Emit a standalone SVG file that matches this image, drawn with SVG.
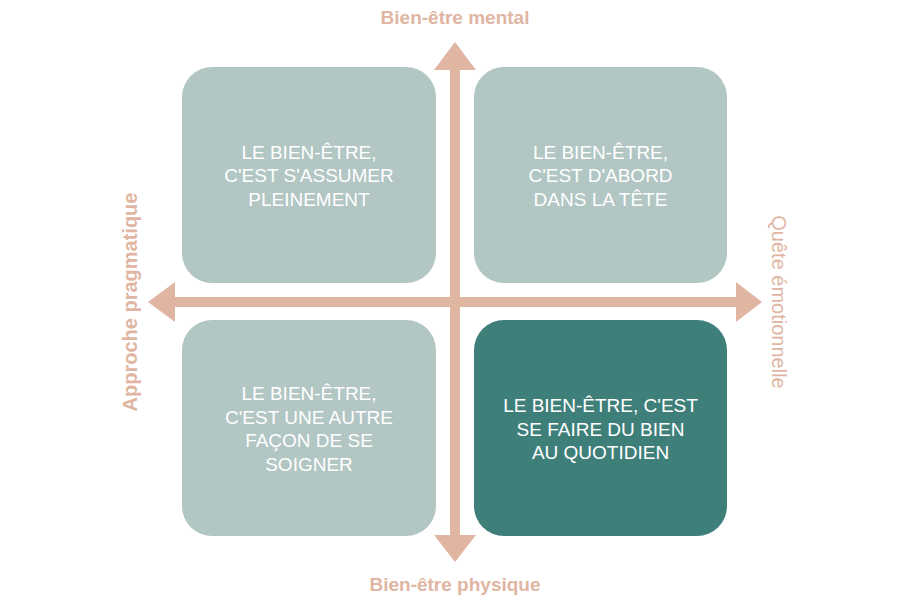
<svg xmlns="http://www.w3.org/2000/svg" width="909" height="600" viewBox="0 0 909 600">
<style>
.box{fill:#b2c6c3}
.dark{fill:#3f7f7a}
.t{font-family:"Liberation Sans",Arial,sans-serif;font-size:19px;fill:#ffffff;text-anchor:middle}
.ax{font-family:"Liberation Sans",Arial,sans-serif;font-size:19px;font-weight:bold;fill:#e0b6a3;text-anchor:middle}
.arr{fill:#e0b6a3}
</style>
<rect width="909" height="600" fill="#ffffff"/>
<g id="connectors">
<polygon class="arr" points="455,42 476,70 460,70 460,297 736,297 736,282 762,302 736,322 736,307 460,307 460,535 476,535 455,562 434,535 450,535 450,307 175,307 175,322 148,302 175,282 175,297 450,297 450,70 434,70"/>
</g>
<g id="q1">
<rect class="box" x="182" y="67" width="254" height="216" rx="30"/>
<text class="t"><tspan x="309" y="158.5">LE BIEN-ÊTRE,</tspan><tspan x="309" y="182">C'EST S'ASSUMER</tspan><tspan x="309" y="205.5">PLEINEMENT</tspan></text>
</g>
<g id="q2">
<rect class="box" x="474" y="67" width="253" height="216" rx="30"/>
<text class="t"><tspan x="600.5" y="158.5">LE BIEN-ÊTRE,</tspan><tspan x="600.5" y="182">C'EST D'ABORD</tspan><tspan x="600.5" y="205.5">DANS LA TÊTE</tspan></text>
</g>
<g id="q3">
<rect class="box" x="182" y="320" width="254" height="216" rx="30"/>
<text class="t"><tspan x="309" y="400">LE BIEN-ÊTRE,</tspan><tspan x="309" y="423.5">C'EST UNE AUTRE</tspan><tspan x="309" y="447">FAÇON DE SE</tspan><tspan x="309" y="470.5">SOIGNER</tspan></text>
</g>
<g id="q4">
<rect class="dark" x="474" y="320" width="253" height="216" rx="30"/>
<text class="t"><tspan x="600.5" y="412">LE BIEN-ÊTRE, C'EST</tspan><tspan x="600.5" y="435.5">SE FAIRE DU BIEN</tspan><tspan x="600.5" y="459">AU QUOTIDIEN</tspan></text>
</g>
<g id="labels">
<text class="ax" x="455" y="24">Bien-être mental</text>
<text class="ax" x="455" y="591">Bien-être physique</text>
<text class="ax" style="font-size:20px" transform="translate(137,302) rotate(-90)">Approche pragmatique</text>
<text class="ax" style="font-weight:normal;font-size:20px" transform="translate(772,302) rotate(90)">Quête émotionnelle</text>
</g>
</svg>
